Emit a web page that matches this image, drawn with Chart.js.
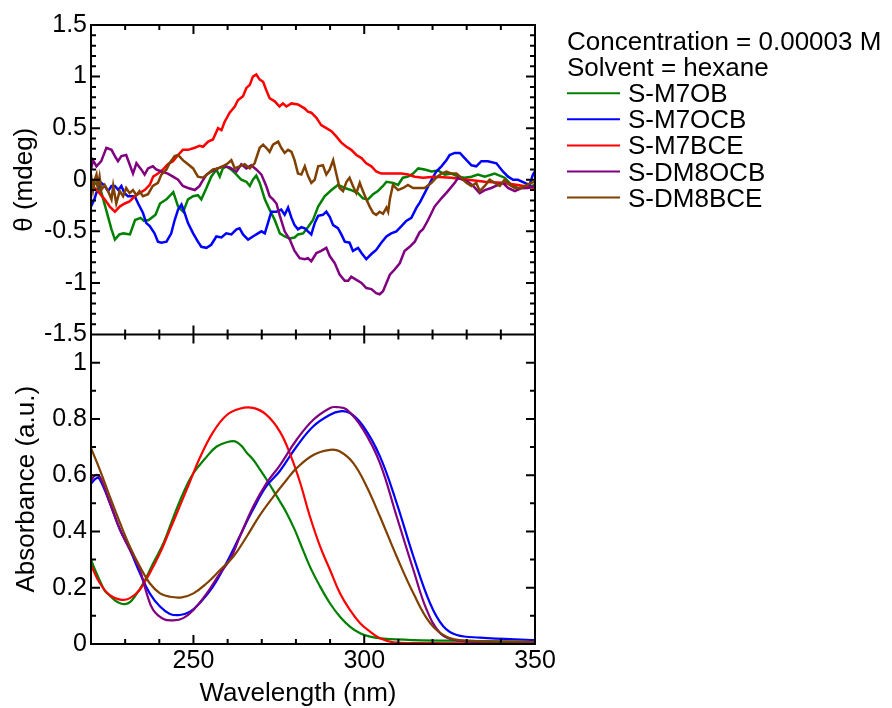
<!DOCTYPE html>
<html>
<head>
<meta charset="utf-8">
<title>CD and UV spectra</title>
<script src="https://cdn.jsdelivr.net/npm/chart.js@4.4.1/dist/chart.umd.min.js"></script>
<style>
  html, body { margin: 0; padding: 0; background: #fff; }
  #wrap { position: relative; width: 892px; height: 708px; }
</style>
</head>
<body>
<div id="wrap"><canvas id="spectra"></canvas></div>
<script>
const FONT = "'Liberation Sans', Arial, Helvetica, sans-serif";

const seriesNames = ['S-M7OB', 'S-M7OCB', 'S-M7BCE', 'S-DM8OCB', 'S-DM8BCE'];
const seriesColors = ['#008000', '#0000ff', '#ff0000', '#800080', '#804000'];
const legendNotes = ['Concentration = 0.00003 M', 'Solvent = hexane'];

const wavelengthTicks = [250, 300, 350];
const cdTicks = [-1.5, -1, -0.5, 0, 0.5, 1, 1.5];
const absTicks = [0, 0.2, 0.4, 0.6, 0.8, 1];

// ---- CD traces: wavelength (nm) / ellipticity (mdeg) ----
const cdM7OB_nm = [
  220, 221.5, 223, 224.5, 226, 227, 228.3, 229.5, 231.4, 232.9,
  234.5, 235.5, 236.9, 238.9, 240.2, 242.1, 244.1, 245.5, 247, 248.4,
  249.9, 251.3, 252.3, 253.8, 255.2, 256.7, 257.7, 258.6, 259.6, 261,
  262.6, 264, 265.5, 266.5, 267.4, 268.4, 269.4, 270.9, 272.3, 273.8,
  275.3, 276.7, 278.2, 279.6, 280.6, 282.1, 283.5, 285, 286.5, 288.4,
  290.4, 292.3, 294.3, 296.2, 298.2, 299.6, 301.1, 302.6, 304, 305.5,
  306.5, 308.4, 309.9, 311.3, 312.8, 314.3, 315.8, 317.7, 319.7, 321.6,
  323.6, 325.5, 327.5, 329.4, 331.4, 333.3, 335.3, 338.2, 341.1, 343.1,
  345, 347, 349, 350];
const cdM7OB = [
  0.00, -0.04, -0.12, -0.30, -0.48, -0.58, -0.53, -0.52, -0.53, -0.39,
  -0.37, -0.40, -0.39, -0.34, -0.23, -0.19, -0.12, -0.26, -0.31, -0.19,
  -0.16, -0.15, -0.19, -0.08, 0.03, 0.10, 0.03, 0.11, 0.13, 0.10,
  0.05, 0.00, -0.02, -0.06, 0.00, 0.04, -0.03, -0.19, -0.29, -0.39,
  -0.52, -0.55, -0.57, -0.56, -0.53, -0.52, -0.46, -0.39, -0.26, -0.16,
  -0.10, -0.05, -0.08, -0.10, -0.13, -0.18, -0.19, -0.14, -0.11, -0.06,
  -0.02, -0.03, -0.05, 0.02, 0.03, 0.06, 0.11, 0.10, 0.08, 0.09,
  0.05, 0.06, 0.03, 0.02, 0.03, 0.05, 0.03, 0.06, 0.02, -0.05,
  -0.08, -0.08, -0.06, -0.05];

const cdM7OCB_nm = [
  220, 221, 222, 223, 224, 225, 226, 227, 228, 228.9,
  229.8, 230.8, 232.8, 233.8, 235.2, 236.2, 237.2, 238.6, 239.6, 240.6,
  242.1, 243.5, 244.5, 245.5, 246.5, 247.4, 248.4, 249.9, 251.3, 252.3,
  253.8, 255.2, 256.7, 258.2, 259.6, 261.1, 262.6, 263.5, 264.5, 266,
  267.4, 268.9, 269.9, 270.9, 271.8, 272.8, 274.3, 275.7, 276.7, 277.7,
  278.7, 279.6, 280.6, 281.6, 282.6, 283.5, 284.5, 285.5, 286.5, 287.9,
  288.9, 289.9, 290.9, 292.3, 293.3, 294.3, 295.7, 296.7, 298.2, 299.2,
  300.6, 302.1, 303.5, 305, 306.5, 307.9, 309.4, 310.9, 312.3, 313.8,
  315.3, 316.3, 317.7, 319.7, 321.1, 322.6, 324.1, 325, 326.5, 328,
  329.4, 331.4, 332.8, 334.3, 336.2, 338.7, 340.6, 342.1, 343.6, 345,
  347, 348.4, 349.4, 350];
const cdM7OCB = [
  -0.26, -0.19, -0.08, -0.03, -0.06, -0.11, -0.06, -0.06, -0.10, -0.06,
  -0.13, -0.16, -0.16, -0.23, -0.32, -0.42, -0.45, -0.52, -0.60, -0.61,
  -0.60, -0.52, -0.39, -0.29, -0.24, -0.32, -0.42, -0.52, -0.60, -0.65,
  -0.66, -0.63, -0.55, -0.56, -0.52, -0.53, -0.48, -0.47, -0.53, -0.58,
  -0.55, -0.52, -0.50, -0.52, -0.42, -0.31, -0.31, -0.29, -0.34, -0.27,
  -0.37, -0.44, -0.48, -0.46, -0.47, -0.50, -0.53, -0.42, -0.35, -0.34,
  -0.31, -0.36, -0.44, -0.47, -0.53, -0.60, -0.61, -0.69, -0.66, -0.71,
  -0.77, -0.72, -0.68, -0.61, -0.55, -0.52, -0.50, -0.45, -0.40, -0.37,
  -0.27, -0.22, -0.13, 0.00, 0.08, 0.13, 0.19, 0.24, 0.26, 0.26,
  0.21, 0.14, 0.13, 0.18, 0.18, 0.16, 0.08, 0.03, 0.00, 0.00,
  -0.03, -0.05, 0.05, 0.08];

const cdM7BCE_nm = [
  220, 221, 222.5, 224, 225.5, 227, 228.4, 229.9, 231.3, 232.8,
  234.2, 235.7, 237.2, 238.2, 239.6, 241.1, 242.5, 244, 245.5, 246.9,
  248.4, 250.4, 251.8, 252.8, 254.3, 255.7, 257.2, 258.2, 259.1, 260.6,
  262.1, 263, 264.5, 265.5, 266.5, 267.4, 268.4, 269.4, 270.4, 271.3,
  272.3, 273.8, 275.2, 276.2, 277.2, 278.7, 280.6, 282.6, 283.5, 284.5,
  286, 287.4, 288.9, 290.4, 291.8, 293.3, 294.8, 296.2, 297.7, 299.2,
  300.6, 302.1, 303.5, 305, 307, 308.9, 310.9, 312.8, 314.8, 317.2,
  320.6, 325.5, 330.4, 335.3, 340.2, 345, 350];
const cdM7BCE = [
  -0.03, -0.08, -0.13, -0.19, -0.26, -0.31, -0.26, -0.23, -0.21, -0.16,
  -0.13, -0.10, -0.05, 0.03, 0.06, 0.10, 0.15, 0.18, 0.24, 0.29,
  0.29, 0.31, 0.33, 0.32, 0.37, 0.39, 0.50, 0.48, 0.56, 0.65,
  0.71, 0.77, 0.81, 0.89, 0.92, 1.00, 1.02, 0.97, 0.95, 0.87,
  0.79, 0.76, 0.71, 0.74, 0.71, 0.74, 0.73, 0.69, 0.66, 0.65,
  0.60, 0.53, 0.50, 0.47, 0.42, 0.36, 0.32, 0.29, 0.24, 0.21,
  0.16, 0.13, 0.08, 0.06, 0.06, 0.06, 0.06, 0.05, 0.03, 0.02,
  0.03, 0.02, 0.00, -0.02, -0.03, -0.05, -0.08];

const cdDM8OCB_nm = [
  220, 220.6, 221.6, 223, 224.5, 226, 227, 227.9, 228.9, 230.3,
  231.3, 232.3, 233.3, 234.7, 235.7, 236.7, 238.1, 239.1, 240.6, 242.5,
  244, 245.5, 246.9, 248.4, 250.4, 251.8, 252.3, 253.8, 255.2, 257.2,
  258.6, 260.6, 262.6, 264, 265.5, 266.9, 268.4, 269.9, 271.3, 272.3,
  273.3, 274.3, 275.3, 276.7, 278.2, 279.6, 281.1, 282.6, 283.5, 284.5,
  286, 287.4, 288.9, 289.9, 291.4, 292.8, 294.3, 295.3, 296.2, 297.7,
  299.2, 300.6, 302.1, 303.5, 304.5, 305.5, 306.5, 307.5, 308.9, 310.4,
  311.8, 313.3, 314.8, 316.2, 317.2, 318.7, 320.6, 322.6, 324.5, 326.5,
  327.5, 328.9, 330.4, 331.9, 333.8, 335.3, 337.2, 339.2, 340.6, 342.1,
  344.1, 346, 348, 350];
const cdDM8OCB = [
  0.10, 0.19, 0.13, 0.18, 0.31, 0.29, 0.23, 0.18, 0.23, 0.24,
  0.15, 0.06, 0.16, 0.10, 0.05, 0.11, 0.13, 0.10, 0.08, 0.06,
  0.03, 0.00, -0.06, -0.08, -0.10, -0.06, -0.03, 0.05, 0.08, 0.11,
  0.13, 0.12, 0.08, 0.15, 0.11, 0.14, 0.10, 0.05, -0.06, -0.16,
  -0.19, -0.23, -0.35, -0.50, -0.58, -0.69, -0.76, -0.77, -0.76, -0.79,
  -0.71, -0.69, -0.66, -0.74, -0.81, -0.92, -0.98, -0.98, -0.94, -0.97,
  -1.00, -1.05, -1.06, -1.10, -1.11, -1.08, -1.00, -0.92, -0.87, -0.81,
  -0.69, -0.65, -0.60, -0.51, -0.48, -0.39, -0.26, -0.18, -0.11, -0.03,
  0.02, 0.00, -0.02, -0.06, -0.13, -0.10, -0.08, -0.05, -0.03, -0.08,
  -0.11, -0.08, -0.08, -0.06];

const cdDM8BCE_nm = [
  220, 220.6, 221.1, 221.6, 222, 222.5, 223, 224, 225, 226,
  226.5, 227.4, 228.4, 229.4, 230.3, 231.3, 232.3, 233.3, 234.2, 235.2,
  236.7, 238.1, 239.6, 240.6, 242.1, 243, 244.5, 245.5, 246.9, 248.4,
  249.9, 251.3, 252.8, 254.3, 255.7, 257.2, 258.6, 260.1, 261.1, 262.1,
  263.5, 265, 266.5, 267.9, 269.4, 270.4, 271.3, 272.3, 273.3, 274.8,
  275.7, 276.7, 277.7, 278.7, 279.6, 280.6, 281.6, 282.6, 283.5, 284.5,
  285.5, 286.5, 287.9, 288.9, 289.9, 290.9, 291.8, 292.8, 293.8, 294.8,
  295.7, 296.7, 297.7, 298.7, 299.6, 300.6, 301.6, 302.6, 303.5, 304.5,
  305.5, 306.5, 307, 307.5, 308.4, 309.9, 311.4, 312.8, 314.3, 315.8,
  317.7, 319.7, 321.1, 322.6, 324.1, 325.5, 327, 328.4, 329.9, 331.4,
  332.8, 333.8, 335.3, 336.7, 338.2, 339.7, 341.1, 342.6, 344.1, 346,
  347.5, 349, 350];
const cdDM8BCE = [
  0.05, -0.10, 0.00, 0.05, -0.06, 0.03, -0.10, -0.05, -0.11, -0.19,
  -0.06, -0.23, -0.11, -0.16, -0.08, -0.13, -0.10, -0.15, -0.11, -0.16,
  -0.14, -0.06, -0.03, 0.05, 0.10, 0.16, 0.23, 0.24, 0.19, 0.15,
  0.11, 0.03, 0.02, 0.06, 0.10, 0.11, 0.13, 0.16, 0.19, 0.11,
  0.13, 0.15, 0.11, 0.16, 0.31, 0.34, 0.31, 0.27, 0.34, 0.37,
  0.31, 0.26, 0.29, 0.27, 0.19, 0.06, 0.05, 0.13, 0.04, -0.03,
  0.00, 0.13, 0.14, 0.05, 0.10, 0.19, 0.06, -0.08, -0.11, -0.02,
  0.02, -0.06, -0.13, -0.03, -0.11, -0.19, -0.26, -0.32, -0.34, -0.31,
  -0.33, -0.27, -0.31, -0.19, -0.05, -0.10, -0.08, -0.05, -0.08, -0.08,
  -0.08, -0.03, 0.02, 0.06, 0.08, 0.06, 0.06, 0.02, -0.03, -0.06,
  -0.03, -0.11, -0.06, 0.00, -0.03, -0.06, 0.00, -0.05, -0.08, -0.08,
  -0.05, -0.03, -0.02];

// ---- UV absorbance traces: wavelength (nm) / absorbance (a.u.) ----
const absM7OB_nm = [
  220, 221.2, 222.6, 224, 225.5, 227, 228.5, 230, 231.5, 233,
  235.3, 238.2, 241.2, 244.1, 247, 250, 253.9, 256.8, 260, 262.2,
  264, 265.6, 267.5, 269.5, 271.5, 273.4, 275.3, 277.3, 279.5, 281.2,
  284.1, 287.1, 290, 292.9, 295.8, 298.8, 301.7, 305.6, 314.4, 330,
  350];
const absM7OB = [
  0.30, 0.263, 0.225, 0.19, 0.172, 0.155, 0.145, 0.142, 0.150, 0.172,
  0.216, 0.287, 0.358, 0.45, 0.536, 0.607, 0.666, 0.702, 0.718, 0.72,
  0.705, 0.68, 0.655, 0.62, 0.583, 0.545, 0.507, 0.465, 0.41, 0.36,
  0.275, 0.204, 0.144, 0.097, 0.062, 0.038, 0.026, 0.019, 0.014, 0.011,
  0.008];

const absM7OCB_nm = [
  220, 221.7, 222.6, 225.5, 228.5, 231.4, 234.3, 237.2, 240.2, 243.1,
  246, 249, 251.8, 255.7, 259.6, 263.5, 267.4, 271.3, 275.3, 280.2,
  285.1, 290, 292.9, 295.8, 299.7, 304.6, 309.5, 314.4, 319.3, 323.2,
  327.1, 333.9, 350];
const absM7OCB = [
  0.57, 0.59, 0.585, 0.502, 0.406, 0.335, 0.252, 0.18, 0.133, 0.107,
  0.103, 0.115, 0.145, 0.204, 0.287, 0.382, 0.477, 0.56, 0.615, 0.702,
  0.774, 0.815, 0.827, 0.821, 0.774, 0.667, 0.501, 0.311, 0.144, 0.062,
  0.032, 0.023, 0.014];

const absM7BCE_nm = [
  220, 222.6, 225.5, 228.9, 231.4, 234.3, 237.2, 240.2, 243.1, 246,
  248.9, 251.8, 255.7, 259.6, 263.5, 267.4, 271.3, 275.3, 278.3, 281.2,
  284.1, 287.1, 290, 292.9, 295.8, 298.8, 301.7, 304.6, 308.5, 314.4,
  350];
const absM7BCE = [
  0.28, 0.216, 0.174, 0.157, 0.163, 0.193, 0.252, 0.323, 0.406, 0.49,
  0.575, 0.66, 0.752, 0.812, 0.836, 0.839, 0.815, 0.755, 0.675, 0.575,
  0.453, 0.346, 0.263, 0.18, 0.121, 0.074, 0.044, 0.02, 0.006, 0.003,
  0.002];

const absDM8OCB_nm = [
  220, 221.2, 222.6, 225.5, 228.5, 232.4, 234.3, 236.3, 238.2, 241.2,
  244.1, 247, 250, 253.9, 257.8, 260.7, 263.6, 267.5, 271.4, 275.3,
  280.2, 285.1, 290, 291.9, 294.9, 299.7, 304.6, 309.5, 314.4, 318.3,
  322.2, 326.1, 333.9, 350];
const absDM8OCB = [
  0.58, 0.60, 0.594, 0.502, 0.406, 0.311, 0.264, 0.18, 0.121, 0.089,
  0.084, 0.092, 0.121, 0.18, 0.252, 0.30, 0.382, 0.489, 0.572, 0.635,
  0.726, 0.797, 0.839, 0.842, 0.833, 0.762, 0.643, 0.453, 0.263, 0.121,
  0.039, 0.015, 0.006, 0.004];

const absDM8BCE_nm = [
  220, 222.6, 225.5, 228.5, 231.4, 234.3, 237.2, 240.2, 243.1, 246.6,
  250, 253.9, 257.8, 261.7, 265.6, 269.5, 273.4, 277.3, 280.2, 285.1,
  290, 292.9, 296.8, 300.7, 304.6, 309.5, 314.4, 319.3, 324.1, 330,
  350];
const absDM8BCE = [
  0.696, 0.619, 0.524, 0.43, 0.346, 0.275, 0.216, 0.18, 0.168, 0.166,
  0.18, 0.216, 0.263, 0.311, 0.382, 0.459, 0.524, 0.584, 0.625, 0.672,
  0.69, 0.684, 0.643, 0.56, 0.453, 0.311, 0.18, 0.074, 0.026, 0.012,
  0.008];

const cdTraces = [
  [cdM7OB_nm, cdM7OB], [cdM7OCB_nm, cdM7OCB], [cdM7BCE_nm, cdM7BCE],
  [cdDM8OCB_nm, cdDM8OCB], [cdDM8BCE_nm, cdDM8BCE]];
const absTraces = [
  [absM7OB_nm, absM7OB], [absM7OCB_nm, absM7OCB], [absM7BCE_nm, absM7BCE],
  [absDM8OCB_nm, absDM8OCB], [absDM8BCE_nm, absDM8BCE]];

function toPoints(nm, vals) {
  return nm.map(function(x, i) { return { x: x, y: vals[i] }; });
}

var datasets = [];
cdTraces.forEach(function(t, i) {
  datasets.push({
    label: seriesNames[i],
    data: toPoints(t[0], t[1]),
    yAxisID: 'yCD',
    borderColor: seriesColors[i],
    borderWidth: 2.5,
    pointRadius: 0,
    tension: 0,
    order: seriesNames.length - i
  });
});
absTraces.forEach(function(t, i) {
  datasets.push({
    label: seriesNames[i],
    data: toPoints(t[0], t[1]),
    yAxisID: 'yAbs',
    borderColor: seriesColors[i],
    borderWidth: 2.2,
    pointRadius: 0,
    tension: 0.4,
    order: seriesNames.length - i
  });
});

// frames with inward ticks on every side of both panels, plus legend + x title
const panelFrame = {
  id: 'panelFrame',
  afterDraw: function(chart) {
    var ctx = chart.ctx, area = chart.chartArea, xs = chart.scales.x;
    var panels = [
      { scale: chart.scales.yCD, step: 0.1, every: 5 },
      { scale: chart.scales.yAbs, step: 0.1, every: 2 }
    ];
    ctx.save();
    ctx.strokeStyle = '#000';
    ctx.lineWidth = 2;
    ctx.beginPath();
    panels.forEach(function(p) {
      var top = p.scale.top, bottom = p.scale.bottom;
      var left = area.left, right = area.right;
      ctx.rect(left, top, right - left, bottom - top);
      for (var nm = xs.min + 10; nm < xs.max; nm += 10) {
        var px = xs.getPixelForValue(nm);
        var len = nm % 50 === 0 ? 9 : 5;
        ctx.moveTo(px, top); ctx.lineTo(px, top + len);
        ctx.moveTo(px, bottom); ctx.lineTo(px, bottom - len);
      }
      var k0 = Math.round(p.scale.min / p.step), k1 = Math.round(p.scale.max / p.step);
      for (var k = k0 + 1; k < k1; k++) {
        var py = p.scale.getPixelForValue(k * p.step);
        var l = k % p.every === 0 ? 9 : 5;
        ctx.moveTo(left, py); ctx.lineTo(left + l, py);
        ctx.moveTo(right, py); ctx.lineTo(right - l, py);
      }
    });
    ctx.stroke();

    // legend block
    ctx.fillStyle = '#000';
    ctx.font = '26px ' + FONT;
    ctx.textAlign = 'left';
    ctx.textBaseline = 'alphabetic';
    var lx = 567, rowH = 26.1, base0 = 50;
    legendNotes.forEach(function(t, i) { ctx.fillText(t, lx, base0 + i * rowH); });
    seriesNames.forEach(function(name, i) {
      var b = base0 + (i + legendNotes.length) * rowH;
      ctx.strokeStyle = seriesColors[i];
      ctx.lineWidth = 2;
      ctx.beginPath();
      ctx.moveTo(lx, b - 9);
      ctx.lineTo(lx + 53, b - 9);
      ctx.stroke();
      ctx.fillText(name, lx + 61, b);
    });

    ctx.textAlign = 'center';
    ctx.fillText('Wavelength (nm)', (area.left + area.right) / 2 - 15, 701);
    ctx.restore();
  }
};

function yTickOpts() {
  return {
    font: { family: FONT, size: 25 },
    color: '#000',
    padding: 4,
    autoSkip: false,
    callback: function(v) { return String(v); }
  };
}

new Chart(document.getElementById('spectra'), {
  type: 'line',
  data: { datasets: datasets },
  options: {
    responsive: true,
    maintainAspectRatio: false,
    animation: false,
    devicePixelRatio: 1,
    layout: { padding: { top: 25, right: 357, bottom: 0, left: 0 } },
    plugins: { legend: { display: false }, tooltip: { enabled: false } },
    scales: {
      x: {
        type: 'linear',
        position: 'bottom',
        min: 220,
        max: 350,
        afterBuildTicks: function(s) { s.ticks = wavelengthTicks.map(function(v) { return { value: v }; }); },
        afterFit: function(s) { s.height = 64; },
        grid: { display: false, drawTicks: false },
        border: { display: false },
        ticks: {
          font: { family: FONT, size: 25 },
          color: '#000',
          padding: 2,
          maxRotation: 0,
          autoSkip: false
        }
      },
      yAbs: {
        type: 'linear',
        position: 'left',
        stack: 'panels',
        stackWeight: 1,
        min: 0,
        max: 1.1,
        afterBuildTicks: function(s) { s.ticks = absTicks.map(function(v) { return { value: v }; }); },
        afterFit: function(s) { s.width = 91; },
        grid: { display: false, drawTicks: false },
        border: { display: false },
        ticks: yTickOpts(),
        title: {
          display: true,
          text: 'Absorbance (a.u.)',
          color: '#000',
          font: { family: FONT, size: 26 },
          padding: { top: 11, bottom: 0 }
        }
      },
      yCD: {
        type: 'linear',
        position: 'left',
        stack: 'panels',
        stackWeight: 1,
        min: -1.5,
        max: 1.5,
        afterBuildTicks: function(s) { s.ticks = cdTicks.map(function(v) { return { value: v }; }); },
        afterFit: function(s) { s.width = 91; },
        grid: { display: false, drawTicks: false },
        border: { display: false },
        ticks: yTickOpts(),
        title: {
          display: true,
          text: 'θ (mdeg)',
          color: '#000',
          font: { family: FONT, size: 26 },
          padding: { top: 9, bottom: 0 }
        }
      }
    }
  },
  plugins: [panelFrame]
});
</script>
</body>
</html>
